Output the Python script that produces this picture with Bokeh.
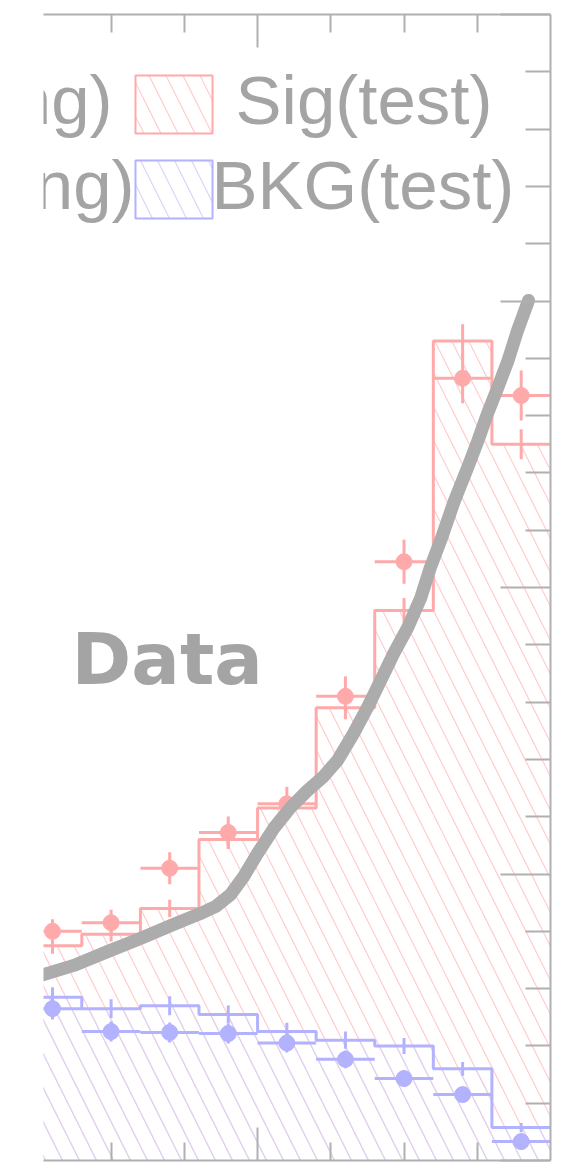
from bokeh.plotting import figure
from bokeh.models import FixedTicker, LinearAxis, Range1d, CustomJSTickFormatter
from bokeh.core.properties import value
from bokeh.embed import file_html
from bokeh.resources import INLINE

# ---------------- data ----------------
bin_edges = [0.18, 0.26, 0.34, 0.42, 0.50, 0.58, 0.66, 0.74, 0.82, 0.90]

sig_test = [0.75, 0.79, 0.88, 1.12, 1.23, 1.58, 1.92, 2.86, 2.50]
sig_test_err = [0.028, 0.026, 0.030, 0.033, 0.035, 0.040, 0.043, 0.059, 0.052]
sig_train = [0.80, 0.83, 1.02, 1.145, 1.245, 1.62, 2.09, 2.73, 2.67]
sig_train_err = [0.042, 0.045, 0.056, 0.056, 0.059, 0.070, 0.077, 0.087, 0.087]

bkg_test = [0.57, 0.53, 0.54, 0.51, 0.45, 0.42, 0.40, 0.32, 0.115]
bkg_test_err = [0.035, 0.033, 0.033, 0.031, 0.031, 0.030, 0.028, 0.024, 0.016]
bkg_train = [0.53, 0.45, 0.447, 0.443, 0.41, 0.353, 0.286, 0.23, 0.066]
bkg_train_err = [0.038, 0.035, 0.035, 0.035, 0.033, 0.031, 0.028, 0.024, 0.014]

# hand-drawn "Data" curve
curve_x = [0.179, 0.204, 0.249, 0.295, 0.340, 0.385, 0.422, 0.443, 0.463, 0.481,
           0.500, 0.522, 0.545, 0.568, 0.590, 0.609, 0.631, 0.650, 0.668, 0.686,
           0.705, 0.723, 0.736, 0.750, 0.768, 0.787, 0.801, 0.814, 0.828, 0.842,
           0.855, 0.870]
curve_y = [0.628, 0.646, 0.681, 0.729, 0.775, 0.824, 0.862, 0.887, 0.928, 0.991,
           1.072, 1.159, 1.232, 1.291, 1.340, 1.396, 1.490, 1.581, 1.675, 1.770,
           1.860, 1.965, 2.070, 2.164, 2.297, 2.419, 2.513, 2.607, 2.698, 2.792,
           2.897, 3.002]

legend_labels = ["Sig(training)", "Sig(test)", "BKG(training)", "BKG(test)"]
curve_label = "Data"

x_major = [0.5]
x_minor = [0.3, 0.4, 0.6, 0.7, 0.8]
y_major = [0, 1, 2, 3, 4]
y_minor = [0.2, 0.4, 0.6, 0.8, 1.2, 1.4, 1.6, 1.8, 2.2, 2.4, 2.6, 2.8,
           3.2, 3.4, 3.6, 3.8]

# ---------------- styles ----------------
SIG = "#ffaaaa"
SIG_HATCH = "#ffcccc"
BKG = "#b2b2ff"
BKG_HATCH = "#ddd3f5"
GREY = "#b0b0b0"
TXT = "#a4a4a4"
CURVE = "#acacac"

lo = bin_edges[:-1]
hi = bin_edges[1:]
ctr = [(a + b) / 2 for a, b in zip(lo, hi)]

p = figure(width=584, height=1163, output_backend="svg", toolbar_location=None,
           x_range=Range1d(0.2077, 0.9), y_range=Range1d(0, 4),
           y_axis_location="right", min_border_left=43, min_border_right=34,
           min_border_top=14, min_border_bottom=3)
p.outline_line_color = None
p.grid.visible = False
p.background_fill_color = "white"
p.border_fill_color = "white"

top_axis = LinearAxis()
p.add_layout(top_axis, "above")

blank = CustomJSTickFormatter(code="return ''")
for ax in list(p.xaxis) + [top_axis]:
    ax.ticker = FixedTicker(ticks=x_major, minor_ticks=x_minor)
    ax.major_tick_in = 33
    ax.major_tick_out = 0
    ax.minor_tick_in = 18
    ax.minor_tick_out = 0
for ax in p.yaxis:
    ax.ticker = FixedTicker(ticks=y_major, minor_ticks=y_minor)
    ax.major_tick_in = 50
    ax.major_tick_out = 0
    ax.minor_tick_in = 25
    ax.minor_tick_out = 0
for ax in list(p.xaxis) + [top_axis] + list(p.yaxis):
    ax.formatter = blank
    ax.axis_line_color = GREY
    ax.axis_line_width = 2
    ax.major_tick_line_color = GREY
    ax.major_tick_line_width = 2
    ax.minor_tick_line_color = GREY
    ax.minor_tick_line_width = 2
    ax.major_label_standoff = 0
    ax.axis_label = None

HS = 34
# hatched fills
p.quad(left=lo, right=hi, bottom=0, top=sig_test, fill_alpha=0, line_color=None,
       hatch_pattern="\\", hatch_color=SIG_HATCH, hatch_weight=1.2, hatch_scale=HS)
p.quad(left=lo, right=hi, bottom=0, top=bkg_test, fill_alpha=0, line_color=None,
       hatch_pattern="\\", hatch_color=BKG_HATCH, hatch_weight=1.2, hatch_scale=HS)

# step outlines
p.step(x=bin_edges, y=sig_test + [sig_test[-1]], mode="after", line_color=SIG, line_width=3)
p.step(x=bin_edges, y=bkg_test + [bkg_test[-1]], mode="after", line_color=BKG, line_width=3)

# test error bars
p.segment(x0=ctr, x1=ctr, y0=[v - e for v, e in zip(sig_test, sig_test_err)],
          y1=[v + e for v, e in zip(sig_test, sig_test_err)], line_color=SIG, line_width=3)
p.segment(x0=ctr, x1=ctr, y0=[v - e for v, e in zip(bkg_test, bkg_test_err)],
          y1=[v + e for v, e in zip(bkg_test, bkg_test_err)], line_color=BKG, line_width=3)

# training points
for vals, errs, col in [(sig_train, sig_train_err, SIG), (bkg_train, bkg_train_err, BKG)]:
    p.segment(x0=lo, x1=hi, y0=vals, y1=vals, line_color=col, line_width=3)
    p.segment(x0=ctr, x1=ctr, y0=[v - e for v, e in zip(vals, errs)],
              y1=[v + e for v, e in zip(vals, errs)], line_color=col, line_width=3)
    p.scatter(x=ctr, y=vals, size=16, marker="circle", fill_color=col, line_color=col)

# legend (ROOT style, partly cut by the crop)
p.quad(left=[0.3333], right=[0.4385], bottom=[3.585], top=[3.787], fill_alpha=0,
       line_color=SIG, line_width=2, hatch_pattern="\\", hatch_color=SIG_HATCH,
       hatch_weight=1.2, hatch_scale=HS)
p.quad(left=[0.3333], right=[0.4385], bottom=[3.288], top=[3.490], fill_alpha=0,
       line_color=BKG, line_width=2, hatch_pattern="\\", hatch_color=BKG_HATCH,
       hatch_weight=1.2, hatch_scale=HS)
p.text(x=[0.3020, 0.3320], y=[3.70, 3.403], text=[legend_labels[0], legend_labels[2]],
       text_font=value("Liberation Sans"), text_font_size="69px", text_color=TXT,
       text_align="right", text_baseline="alphabetic")
p.text(x=[0.4700, 0.4370], y=[3.70, 3.403], text=[legend_labels[1], legend_labels[3]],
       text_font=value("Liberation Sans"), text_font_size="69px", text_color=TXT,
       text_align="left", text_baseline="alphabetic")

# hand-drawn data curve + label
p.line(x=curve_x, y=curve_y, line_color=CURVE, line_width=13, line_cap="round",
       line_join="round")
p.text(x=[0.2460], y=[1.752], text=[curve_label], text_font=value("DejaVu Sans"),
       text_font_style="bold", text_font_size="72px", text_color=TXT,
       text_align="left", text_baseline="alphabetic")

open("out.html", "w").write(file_html(p, INLINE))
